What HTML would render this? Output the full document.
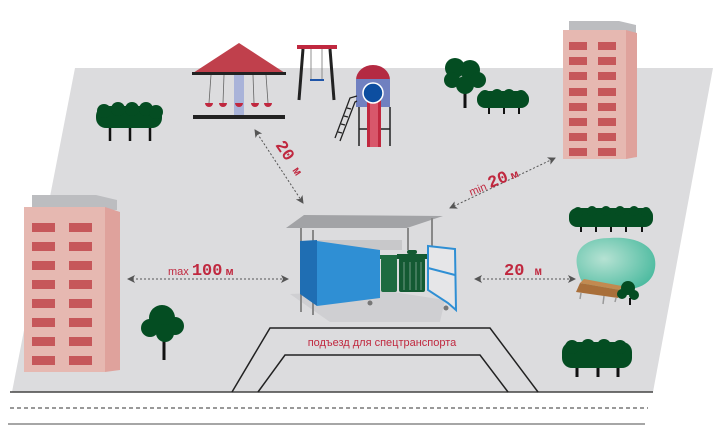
<!DOCTYPE html><html><head><meta charset="utf-8"><style>body{margin:0;background:#fff}svg{display:block}</style></head><body>
<svg width="720" height="436" viewBox="0 0 720 436" xmlns="http://www.w3.org/2000/svg" font-family="Liberation Sans, sans-serif">
<defs>
<marker id="ah" markerWidth="8" markerHeight="8" refX="7" refY="4" orient="auto-start-reverse" markerUnits="userSpaceOnUse"><path d="M0,0L8,4L0,8L2,4Z" fill="#555"/></marker>
<radialGradient id="bush" cx="0.35" cy="0.4" r="0.7"><stop offset="0" stop-color="#b6e2d3"/><stop offset="1" stop-color="#4dbba0"/></radialGradient>
</defs>
<polygon points="75,68 713,68 653,392 12,392" fill="#dcdcde"/>
<line x1="10" y1="392" x2="653" y2="392" stroke="#444" stroke-width="1.5"/>
<line x1="10" y1="408" x2="648" y2="408" stroke="#333" stroke-width="1" stroke-dasharray="4,3"/>
<line x1="8" y1="424" x2="645" y2="424" stroke="#888" stroke-width="1.5"/>
<!-- driveway -->
<polyline points="232,392 270,328 490,328 538,392" fill="none" stroke="#222" stroke-width="1.5"/>
<polyline points="258,392 285,355 480,355 508,392" fill="none" stroke="#222" stroke-width="1.5"/>
<text x="382" y="346" font-size="11" fill="#c0283f" text-anchor="middle">подъезд для спецтранспорта</text>
<!-- left building -->
<polygon points="32,195 96,195 117,200 117,210 32,210" fill="#bcbdc0"/>
<polygon points="105,207 120,212 120,370 105,372" fill="#dfa29c"/>
<rect x="24" y="207" width="81" height="165" fill="#e6b8b1"/>
<g fill="#c6575a">
<rect x="32" y="223" width="23" height="9"/><rect x="69" y="223" width="23" height="9"/>
<rect x="32" y="242" width="23" height="9"/><rect x="69" y="242" width="23" height="9"/>
<rect x="32" y="261" width="23" height="9"/><rect x="69" y="261" width="23" height="9"/>
<rect x="32" y="280" width="23" height="9"/><rect x="69" y="280" width="23" height="9"/>
<rect x="32" y="299" width="23" height="9"/><rect x="69" y="299" width="23" height="9"/>
<rect x="32" y="318" width="23" height="9"/><rect x="69" y="318" width="23" height="9"/>
<rect x="32" y="337" width="23" height="9"/><rect x="69" y="337" width="23" height="9"/>
<rect x="32" y="356" width="23" height="9"/><rect x="69" y="356" width="23" height="9"/>
</g>
<!-- right building -->
<polygon points="569,21 619,21 636,25 636,33 569,33" fill="#bcbdc0"/>
<polygon points="626,30 637,33 637,157 626,159" fill="#dfa29c"/>
<rect x="563" y="30" width="63" height="129" fill="#e6b8b1"/>
<g fill="#c6575a">
<rect x="569" y="42" width="18" height="8"/><rect x="598" y="42" width="18" height="8"/>
<rect x="569" y="57" width="18" height="8"/><rect x="598" y="57" width="18" height="8"/>
<rect x="569" y="72" width="18" height="8"/><rect x="598" y="72" width="18" height="8"/>
<rect x="569" y="88" width="18" height="8"/><rect x="598" y="88" width="18" height="8"/>
<rect x="569" y="103" width="18" height="8"/><rect x="598" y="103" width="18" height="8"/>
<rect x="569" y="118" width="18" height="8"/><rect x="598" y="118" width="18" height="8"/>
<rect x="569" y="133" width="18" height="8"/><rect x="598" y="133" width="18" height="8"/>
<rect x="569" y="148" width="18" height="8"/><rect x="598" y="148" width="18" height="8"/>
</g>
<!-- trees -->
<g fill="#044d22">
<g stroke="#111" stroke-width="2.5"><line x1="110" y1="125" x2="110" y2="141"/><line x1="130" y1="125" x2="130" y2="141"/><line x1="150" y1="125" x2="150" y2="141"/></g>
<rect x="96" y="106" width="66" height="22" rx="10"/>
<circle cx="104" cy="111" r="7"/><circle cx="118" cy="109" r="7"/><circle cx="132" cy="109" r="7"/><circle cx="146" cy="109" r="7"/><circle cx="156" cy="112" r="7"/>
<line x1="164" y1="335" x2="164" y2="360" stroke="#111" stroke-width="3"/>
<circle cx="162" cy="318" r="13"/><circle cx="150" cy="328" r="9"/><circle cx="175" cy="326" r="9"/><circle cx="165" cy="333" r="9"/>
<line x1="465" y1="85" x2="465" y2="108" stroke="#111" stroke-width="3"/>
<circle cx="455" cy="68" r="10"/><circle cx="470" cy="70" r="10"/><circle cx="478" cy="80" r="8"/><circle cx="452" cy="80" r="8"/><circle cx="465" cy="85" r="9"/>
<g stroke="#111" stroke-width="2"><line x1="489" y1="105" x2="489" y2="114"/><line x1="504" y1="105" x2="504" y2="114"/><line x1="519" y1="105" x2="519" y2="114"/></g>
<rect x="477" y="91" width="52" height="17" rx="8"/>
<circle cx="485" cy="96" r="6"/><circle cx="497" cy="95" r="6"/><circle cx="509" cy="95" r="6"/><circle cx="521" cy="96" r="6"/>
<g stroke="#111" stroke-width="2"><line x1="581" y1="224" x2="581" y2="232"/><line x1="596" y1="224" x2="596" y2="232"/><line x1="611" y1="224" x2="611" y2="232"/><line x1="626" y1="224" x2="626" y2="232"/><line x1="642" y1="224" x2="642" y2="232"/></g>
<rect x="569" y="208" width="84" height="19" rx="8"/>
<circle cx="578" cy="212" r="5"/><circle cx="592" cy="211" r="5"/><circle cx="606" cy="211" r="5"/><circle cx="620" cy="211" r="5"/><circle cx="634" cy="211" r="5"/><circle cx="646" cy="212" r="5"/>
<g stroke="#111" stroke-width="3"><line x1="577" y1="365" x2="577" y2="377"/><line x1="598" y1="365" x2="598" y2="377"/><line x1="618" y1="365" x2="618" y2="377"/></g>
<rect x="562" y="342" width="70" height="26" rx="10"/>
<circle cx="572" cy="347" r="7"/><circle cx="588" cy="346" r="7"/><circle cx="604" cy="346" r="7"/><circle cx="620" cy="347" r="7"/>
</g>
<!-- bush & bench -->
<path d="M578,270 C572,250 585,238 610,238 C640,236 658,248 655,268 C652,288 630,292 605,290 C585,290 580,282 578,270Z" fill="url(#bush)"/>
<polygon points="580,283 620,290 618,298 576,292" fill="#a96f3a"/>
<polygon points="584,279 622,286 620,290 580,283" fill="#c28a50"/>
<g stroke="#999" stroke-width="1.5"><line x1="581" y1="293" x2="580" y2="299"/><line x1="604" y1="296" x2="603" y2="304"/><line x1="616" y1="298" x2="615" y2="302"/></g>
<g fill="#044d22"><circle cx="628" cy="288" r="7"/><circle cx="622" cy="294" r="5"/><circle cx="634" cy="295" r="5"/></g>
<line x1="630" y1="298" x2="630" y2="305" stroke="#111" stroke-width="2"/>
<!-- playground carousel -->
<polygon points="239,43 193,73 285,73" fill="#c0404c"/>
<rect x="192" y="72" width="94" height="3" fill="#222"/>
<rect x="234" y="75" width="10" height="40" fill="#a9b3d9"/>
<g stroke="#666" stroke-width="0.8"><line x1="211" y1="75" x2="209" y2="103"/><line x1="224" y1="75" x2="223" y2="103"/><line x1="253" y1="75" x2="254" y2="103"/><line x1="266" y1="75" x2="268" y2="103"/></g>
<g fill="#c0283f"><path d="M205,103h8a4,4 0 0 1 -8,0z"/><path d="M219,103h8a4,4 0 0 1 -8,0z"/><path d="M235,103h8a4,4 0 0 1 -8,0z"/><path d="M251,103h8a4,4 0 0 1 -8,0z"/><path d="M264,103h8a4,4 0 0 1 -8,0z"/></g>
<rect x="193" y="115" width="92" height="4" fill="#222"/>
<!-- swing -->
<rect x="297" y="45" width="40" height="4" fill="#c0283f"/>
<g stroke="#222" stroke-width="3"><line x1="303" y1="49" x2="299" y2="100"/><line x1="330" y1="49" x2="334" y2="100"/></g>
<g stroke="#777" stroke-width="0.8"><line x1="311" y1="49" x2="311" y2="80"/><line x1="322" y1="49" x2="322" y2="80"/></g>
<rect x="310" y="79" width="14" height="2" fill="#1f55a8"/>
<!-- slide tower -->
<path d="M356,80 a17,15 0 0 1 34,0z" fill="#b42a42"/>
<rect x="356" y="79" width="34" height="28" fill="#7080c0"/>
<g stroke="#222" stroke-width="1.5"><line x1="359" y1="107" x2="359" y2="146"/><line x1="390" y1="107" x2="390" y2="146"/><line x1="359" y1="129" x2="390" y2="129"/></g>
<rect x="367" y="100" width="14" height="47" fill="#c0283f"/><rect x="370" y="100" width="8" height="47" fill="#d8576b"/>
<circle cx="373" cy="93" r="10" fill="#0d4ea0" stroke="#fff" stroke-width="1.5"/>
<g stroke="#222" stroke-width="1.3" fill="none"><polyline points="335,138 350,98 357,96"/><polyline points="340,141 355,102 357,101"/><line x1="338" y1="132" x2="342" y2="133"/><line x1="341" y1="124" x2="345" y2="125"/><line x1="344" y1="116" x2="348" y2="117"/><line x1="347" y1="108" x2="351" y2="109"/></g>
<!-- container -->
<polygon points="290,294 380,290 445,300 440,322 330,322" fill="#cfcfd2"/>
<polygon points="286,228 304,215 443,216 407,228" fill="#a2a3a6"/>
<g stroke="#888" stroke-width="2"><line x1="301" y1="228" x2="301" y2="312"/><line x1="313" y1="230" x2="313" y2="315"/><line x1="408" y1="228" x2="408" y2="250"/><line x1="432" y1="218" x2="432" y2="248"/></g>
<rect x="317" y="240" width="85" height="10" fill="#c8c8ca"/>
<polygon points="300,241 317,240 317,306 300,294" fill="#1f6eb3"/>
<polygon points="317,241 380,250 380,298 317,306" fill="#2f8fd4"/>
<g fill="#1e6b40"><rect x="381" y="258" width="16" height="34" rx="2"/><rect x="380" y="255" width="18" height="4"/></g>
<g fill="#145a33"><rect x="399" y="258" width="26" height="34" rx="2"/><rect x="397" y="254" width="30" height="5"/><rect x="407" y="250" width="10" height="4" rx="2"/></g>
<g stroke="#8a9" stroke-width="0.8"><line x1="404" y1="262" x2="404" y2="290"/><line x1="410" y1="262" x2="410" y2="290"/><line x1="416" y1="262" x2="416" y2="290"/><line x1="421" y1="262" x2="421" y2="290"/></g>
<polygon points="428,246 455,249 456,310 448,303 428,290" fill="#e6e6e8" stroke="#2f8fd4" stroke-width="2"/>
<line x1="428" y1="268" x2="455" y2="275" stroke="#2f8fd4" stroke-width="2"/>
<circle cx="370" cy="303" r="2.5" fill="#777"/><circle cx="446" cy="308" r="2.5" fill="#777"/>
<!-- dimension arrows -->
<g stroke="#555" stroke-width="1" stroke-dasharray="2,2" fill="none">
<line x1="255" y1="130" x2="303" y2="203" marker-start="url(#ah)" marker-end="url(#ah)"/>
<line x1="450" y1="208" x2="555" y2="158" marker-start="url(#ah)" marker-end="url(#ah)"/>
<line x1="128" y1="279" x2="288" y2="279" marker-start="url(#ah)" marker-end="url(#ah)"/>
<line x1="475" y1="279" x2="575" y2="279" marker-start="url(#ah)" marker-end="url(#ah)"/>
</g>
<text x="168" y="275" font-size="11" fill="#c0283f">max <tspan font-size="17" font-weight="bold" font-family="Liberation Mono, monospace">100</tspan> <tspan font-weight="bold">м</tspan></text>
<text x="504" y="275" font-size="17" font-weight="bold" fill="#c0283f" font-family="Liberation Mono, monospace">20 <tspan font-size="12">м</tspan></text>
<text transform="translate(275,145) rotate(56)" font-size="17" font-weight="bold" fill="#c0283f" font-family="Liberation Mono, monospace">20 <tspan font-size="12">м</tspan></text>
<text transform="translate(471,196) rotate(-22)" font-size="11" fill="#c0283f">min <tspan font-size="17" font-weight="bold" font-family="Liberation Mono, monospace">20</tspan> <tspan font-weight="bold">м</tspan></text>
</svg>
</body></html>
